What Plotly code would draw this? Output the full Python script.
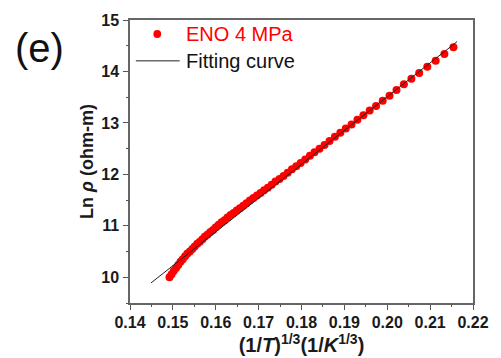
import plotly.graph_objects as go

# Measured resistivity, ENO film at 4 MPa: x = (1/T)^(1/3), y = ln(rho)
eno_x = [0.14921, 0.14971, 0.15021, 0.15073, 0.15125, 0.15178, 0.15231, 0.15285,
         0.15340, 0.15396, 0.15453, 0.15509, 0.15569, 0.15628, 0.15688, 0.15748,
         0.15811, 0.15874, 0.15938, 0.16002, 0.16069, 0.16136, 0.16205, 0.16273,
         0.16345, 0.16417, 0.16490, 0.16564, 0.16641, 0.16718, 0.16796, 0.16877,
         0.16960, 0.17043, 0.17128, 0.17215, 0.17304, 0.17393, 0.17487, 0.17582,
         0.17677, 0.17777, 0.17878, 0.17980, 0.18087, 0.18196, 0.18304, 0.18420,
         0.18537, 0.18654, 0.18779, 0.18905, 0.19033, 0.19167, 0.19304, 0.19444,
         0.19591, 0.19739, 0.19894, 0.20053, 0.20216, 0.20388, 0.20563, 0.20745,
         0.20934, 0.21129, 0.21333, 0.21544]
eno_y = [10.00, 10.06, 10.12, 10.18, 10.24, 10.30, 10.35, 10.41,
         10.46, 10.50, 10.55, 10.60, 10.65, 10.69, 10.74, 10.79,
         10.83, 10.88, 10.92, 10.97, 11.02, 11.07, 11.11, 11.16,
         11.21, 11.25, 11.30, 11.34, 11.39, 11.44, 11.49, 11.54,
         11.59, 11.64, 11.69, 11.74, 11.80, 11.86, 11.91, 11.97,
         12.03, 12.10, 12.16, 12.22, 12.29, 12.36, 12.43, 12.50,
         12.57, 12.65, 12.73, 12.81, 12.89, 12.97, 13.06, 13.15,
         13.24, 13.33, 13.43, 13.53, 13.64, 13.75, 13.86, 13.97,
         14.09, 14.21, 14.34, 14.47]

# Linear Mott-VRH fit, end points
fit_x = [0.1449, 0.2163]
fit_y = [9.89, 14.58]

# Axis ticks
x_ticks = [0.14, 0.15, 0.16, 0.17, 0.18, 0.19, 0.20, 0.21, 0.22]
x_ticklabels = ["0.14", "0.15", "0.16", "0.17", "0.18", "0.19", "0.20", "0.21", "0.22"]
x_minor = [0.145, 0.155, 0.165, 0.175, 0.185, 0.195, 0.205, 0.215]
y_ticks = [10, 11, 12, 13, 14, 15]
y_ticklabels = ["10", "11", "12", "13", "14", "15"]
y_minor = [9.5, 10.5, 11.5, 12.5, 13.5, 14.5]

X_RANGE = [0.14, 0.22]
Y_RANGE = [9.5, 15]

FONT = "Arial, 'Liberation Sans', sans-serif"
RED = "#ff0000"
INK = "#1a1a1a"
TICK_COLOR = "#555555"
TICKFONT = dict(family=FONT, size=16, color=INK, weight=700)

fig = go.Figure()

fig.add_trace(go.Scatter(
    x=eno_x, y=eno_y, mode="markers", name="ENO 4 MPa",
    marker=dict(color=RED, size=8, symbol="circle"),
))
fig.add_trace(go.Scatter(
    x=fit_x, y=fit_y, mode="lines", name="Fitting curve",
    line=dict(color="#222222", width=1),
))

fig.update_layout(
    width=501, height=358,
    margin=dict(l=130, r=19, t=19, b=55),
    paper_bgcolor="white", plot_bgcolor="white",
    showlegend=False,
    xaxis=dict(
        range=X_RANGE, tickmode="array", tickvals=x_ticks, ticktext=x_ticklabels,
        tickfont=TICKFONT, ticklabelstandoff=-1,
        showline=True, linecolor="#666666", linewidth=1.5, mirror=True,
        ticks="outside", ticklen=5, tickwidth=1.2, tickcolor=TICK_COLOR,
        showgrid=False, zeroline=False,
        title=dict(text="(1/<i>T</i>)<sup>1/3</sup>(1/<i>K</i><sup>1/3</sup>)",
                   font=dict(family=FONT, size=20, color=INK, weight=700),
                   standoff=1),
    ),
    yaxis=dict(
        range=Y_RANGE, tickmode="array", tickvals=y_ticks, ticktext=y_ticklabels,
        tickfont=TICKFONT, ticklabelstandoff=1,
        showline=True, linecolor="#666666", linewidth=1.5, mirror=True,
        ticks="outside", ticklen=5, tickwidth=1.2, tickcolor=TICK_COLOR,
        showgrid=False, zeroline=False,
        title=dict(text="Ln <i>ρ</i> (ohm-m)",
                   font=dict(family=FONT, size=18, color=INK, weight=700),
                   standoff=3),
    ),
    # Overlay axes carrying only the short minor ticks
    xaxis2=dict(
        overlaying="x", matches="x", side="bottom", anchor="y",
        tickmode="array", tickvals=x_minor, showticklabels=False,
        ticks="outside", ticklen=3, tickwidth=1.2, tickcolor=TICK_COLOR,
        showgrid=False, zeroline=False, showline=False,
    ),
    yaxis2=dict(
        overlaying="y", matches="y", side="left", anchor="x",
        tickmode="array", tickvals=y_minor, showticklabels=False,
        ticks="outside", ticklen=3, tickwidth=1.2, tickcolor=TICK_COLOR,
        showgrid=False, zeroline=False, showline=False,
    ),
)

# Invisible trace that activates the minor-tick overlay axes
fig.add_trace(go.Scatter(x=X_RANGE, y=Y_RANGE, xaxis="x2", yaxis="y2",
                         mode="markers", marker=dict(opacity=0),
                         hoverinfo="skip", showlegend=False))

# Panel label
fig.add_annotation(
    text="(e)", xref="paper", yref="paper", x=-0.263, y=0.90,
    xanchor="center", yanchor="middle", showarrow=False,
    font=dict(family=FONT, size=40, color="#111111"),
)

# Legend drawn inside the plot's upper-left corner
def px_x(p):
    return (p - 130) / 352

def px_y(p):
    return 1 - (p - 19) / 284

fig.add_shape(type="circle", xref="paper", yref="paper",
              x0=px_x(154), x1=px_x(162), y0=px_y(37), y1=px_y(29),
              fillcolor=RED, line=dict(color=RED, width=0))
fig.add_shape(type="line", xref="paper", yref="paper",
              x0=px_x(136), x1=px_x(181), y0=px_y(60), y1=px_y(60),
              line=dict(color="#222222", width=1))
fig.add_annotation(text="ENO 4 MPa", xref="paper", yref="paper",
                   x=px_x(185), y=px_y(33), xanchor="left", yanchor="middle",
                   showarrow=False, font=dict(family=FONT, size=20, color=RED))
fig.add_annotation(text="Fitting curve", xref="paper", yref="paper",
                   x=px_x(185), y=px_y(60), xanchor="left", yanchor="middle",
                   showarrow=False, font=dict(family=FONT, size=20, color="#111111"))

fig.write_html("out.html")
